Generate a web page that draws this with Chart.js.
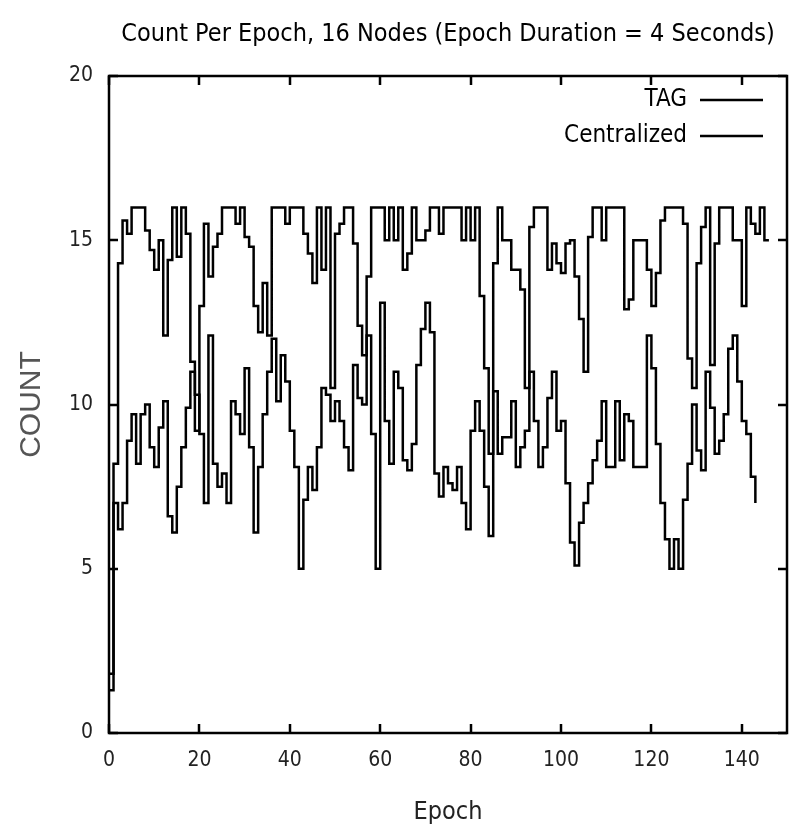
<!DOCTYPE html>
<html>
<head>
<meta charset="utf-8">
<script src="https://cdn.jsdelivr.net/npm/chart.js@4.4.1/dist/chart.umd.min.js"></script>
<style>
  html, body { margin: 0; padding: 0; background: #fff; }
  #wrap { width: 791px; height: 831px; }
</style>
</head>
<body>
<div id="wrap"><canvas id="chart" width="791" height="831"></canvas></div>
<script>
// count per epoch (index = epoch)
const tagCounts = [
  1.3, 8.2, 14.3, 15.6, 15.2, 16, 16, 16, 15.3, 14.7,
  14.1, 15, 12.1, 14.4, 16, 14.5, 16, 15.2, 11.3, 9.2,
  13, 15.5, 13.9, 14.8, 15.2, 16, 16, 16, 15.5, 16,
  15.1, 14.8, 13, 12.2, 13.7, 12.1, 16, 16, 16, 15.5,
  16, 16, 16, 15.2, 14.6, 13.7, 16, 14.1, 16, 10.5,
  15.2, 15.5, 16, 16, 14.9, 12.4, 11.5, 13.9, 16, 16,
  16, 15, 16, 15, 16, 14.1, 14.6, 16, 15, 15,
  15.3, 16, 16, 15.2, 16, 16, 16, 16, 15, 16,
  15, 16, 13.3, 11.1, 8.5, 14.3, 16, 15, 15, 14.1,
  14.1, 13.5, 10.5, 15.4, 16, 16, 16, 14.1, 14.9, 14.3,
  14, 14.9, 15, 13.9, 12.6, 11, 15.1, 16, 16, 15,
  16, 16, 16, 16, 12.9, 13.2, 15, 15, 15, 14.1,
  13, 14, 15.6, 16, 16, 16, 16, 15.5, 11.4, 10.5,
  14.3, 15.4, 16, 11.2, 14.9, 16, 16, 16, 15, 15,
  13, 16, 15.5, 15.2, 16, 15, 15
];
const centralizedCounts = [
  1.8, 7.0, 6.2, 7.0, 8.9, 9.7, 8.2, 9.7, 10.0, 8.7,
  8.1, 9.3, 10.1, 6.6, 6.1, 7.5, 8.7, 9.9, 11.0, 10.3,
  9.1, 7.0, 12.1, 8.2, 7.5, 7.9, 7.0, 10.1, 9.7, 9.1,
  11.1, 8.7, 6.1, 8.1, 9.7, 11.0, 12.0, 10.1, 11.5, 10.7,
  9.2, 8.1, 5.0, 7.1, 8.1, 7.4, 8.7, 10.5, 10.3, 9.5,
  10.1, 9.5, 8.7, 8.0, 11.2, 10.2, 10.0, 12.1, 9.1, 5.0,
  13.1, 9.5, 8.2, 11.0, 10.5, 8.3, 8.0, 8.8, 11.2, 12.3,
  13.1, 12.2, 7.9, 7.2, 8.1, 7.6, 7.4, 8.1, 7.0, 6.2,
  9.2, 10.1, 9.2, 7.5, 6.0, 10.4, 8.5, 9.0, 9.0, 10.1,
  8.1, 8.7, 9.2, 11.0, 9.5, 8.1, 8.7, 10.2, 11.0, 9.2,
  9.5, 7.6, 5.8, 5.1, 6.4, 7.0, 7.6, 8.3, 8.9, 10.1,
  8.1, 8.1, 10.1, 8.3, 9.7, 9.5, 8.1, 8.1, 8.1, 12.1,
  11.1, 8.8, 7.0, 5.9, 5.0, 5.9, 5.0, 7.1, 8.2, 10.0,
  8.6, 8.0, 11.0, 9.9, 8.5, 8.9, 9.7, 11.7, 12.1, 10.7,
  9.5, 9.1, 7.8, 7.0
];
const seriesNames = ['TAG', 'Centralized'];

const narrow = "'Liberation Sans Narrow', 'DejaVu Sans Condensed', 'Liberation Sans', sans-serif";

function toPoints(arr) {
  return arr.map((v, i) => ({ x: i, y: v }));
}

// gnuplot style frame with inward ticks on all four sides
const frameTicks = {
  id: 'frameTicks',
  afterDatasetsDraw(chart) {
    const { ctx, chartArea: a, scales: { x, y } } = chart;
    ctx.save();
    ctx.strokeStyle = '#000';
    ctx.lineWidth = 2.5;
    ctx.strokeRect(a.left, a.top, a.right - a.left, a.bottom - a.top);
    ctx.beginPath();
    x.ticks.forEach(t => {
      const px = Math.round(x.getPixelForValue(t.value));
      ctx.moveTo(px, a.bottom); ctx.lineTo(px, a.bottom - 9);
      ctx.moveTo(px, a.top); ctx.lineTo(px, a.top + 9);
    });
    y.ticks.forEach(t => {
      const py = Math.round(y.getPixelForValue(t.value));
      ctx.moveTo(a.left, py); ctx.lineTo(a.left + 9, py);
      ctx.moveTo(a.right, py); ctx.lineTo(a.right - 9, py);
    });
    ctx.stroke();
    ctx.restore();
  }
};

// key in the top right corner: label, then a line sample
const lineKey = {
  id: 'lineKey',
  afterDatasetsDraw(chart) {
    const { ctx, chartArea: a } = chart;
    ctx.save();
    ctx.font = '24px ' + narrow;
    ctx.textAlign = 'right';
    ctx.textBaseline = 'middle';
    chart.data.datasets.forEach((ds, i) => {
      const yy = a.top + 24 + i * 36;
      ctx.fillStyle = '#000';
      ctx.fillText(ds.label, a.right - 100, yy);
      ctx.beginPath();
      ctx.moveTo(a.right - 87, yy);
      ctx.lineTo(a.right - 24, yy);
      ctx.strokeStyle = ds.borderColor;
      ctx.lineWidth = 2.5;
      ctx.stroke();
    });
    ctx.restore();
  }
};

const chart = new Chart(document.getElementById('chart'), {
  type: 'line',
  data: {
    datasets: [{
      label: seriesNames[0],
      data: toPoints(tagCounts),
      borderColor: '#000',
      backgroundColor: '#000',
      borderWidth: 2.5,
      pointRadius: 0,
      stepped: true,
      fill: false
    }, {
      label: seriesNames[1],
      data: toPoints(centralizedCounts),
      borderColor: '#000',
      backgroundColor: '#000',
      borderWidth: 2.5,
      pointRadius: 0,
      stepped: true,
      fill: false
    }]
  },
  options: {
    responsive: false,
    animation: false,
    devicePixelRatio: 1,
    layout: { padding: { left: 0, right: 4, top: 0, bottom: 0 } },
    plugins: {
      legend: { display: false },
      tooltip: { enabled: false },
      title: {
        display: true,
        fullSize: false,
        text: 'Count Per Epoch, 16 Nodes (Epoch Duration = 4 Seconds)',
        color: '#000',
        font: { family: narrow, size: 25, weight: 'normal' },
        padding: { top: 19, bottom: 27 }
      }
    },
    scales: {
      x: {
        type: 'linear',
        min: 0,
        max: 150,
        grid: { display: false, drawTicks: false },
        border: { display: false },
        ticks: {
          stepSize: 20,
          includeBounds: false,
          maxRotation: 0,
          padding: 15,
          color: '#222',
          font: { family: narrow, size: 21 }
        },
        title: {
          display: true,
          text: 'Epoch',
          color: '#222',
          font: { family: narrow, size: 25 },
          padding: { top: 0, bottom: 4 }
        },
        afterFit(scale) { scale.height = 98; }
      },
      y: {
        min: 0,
        max: 20,
        grid: { display: false, drawTicks: false },
        border: { display: false },
        ticks: {
          stepSize: 5,
          padding: 16,
          color: '#222',
          font: { family: narrow, size: 21 }
        },
        title: {
          display: true,
          text: 'COUNT',
          color: '#555',
          font: { family: "'Liberation Sans', sans-serif", size: 30 },
          padding: { top: 14, bottom: 0 }
        },
        afterFit(scale) { scale.width = 109; }
      }
    }
  },
  plugins: [frameTicks, lineKey]
});
</script>
</body>
</html>
